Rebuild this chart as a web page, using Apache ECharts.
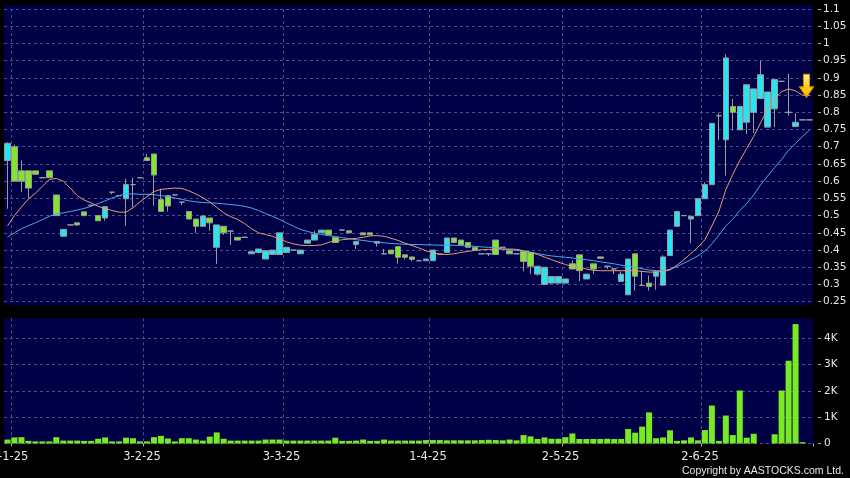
<!DOCTYPE html>
<html><head><meta charset="utf-8">
<script src="https://cdn.jsdelivr.net/npm/echarts@6/dist/echarts.min.js"></script>
<style>html,body{margin:0;padding:0;background:#000;}#c{width:850px;height:478px;}</style>
</head><body><div id="c"></div>
<script>
const dates = [
'2-1-25','3-1-25','6-1-25','7-1-25','8-1-25','9-1-25','10-1-25','13-1-25','14-1-25','15-1-25','16-1-25','17-1-25','20-1-25','21-1-25','22-1-25','23-1-25','24-1-25','27-1-25','28-1-25',
'3-2-25','4-2-25','5-2-25','6-2-25','7-2-25','10-2-25','11-2-25','12-2-25','13-2-25','14-2-25','17-2-25','18-2-25','19-2-25','20-2-25','21-2-25','24-2-25','25-2-25','26-2-25','27-2-25','28-2-25',
'3-3-25','4-3-25','5-3-25','6-3-25','7-3-25','10-3-25','11-3-25','12-3-25','13-3-25','14-3-25','17-3-25','18-3-25','19-3-25','20-3-25','21-3-25','24-3-25','25-3-25','26-3-25','27-3-25','28-3-25','31-3-25',
'1-4-25','2-4-25','3-4-25','7-4-25','8-4-25','9-4-25','10-4-25','11-4-25','14-4-25','15-4-25','16-4-25','17-4-25','22-4-25','23-4-25','24-4-25','25-4-25','28-4-25','29-4-25','30-4-25',
'2-5-25','6-5-25','7-5-25','8-5-25','9-5-25','12-5-25','13-5-25','14-5-25','15-5-25','16-5-25','19-5-25','20-5-25','21-5-25','22-5-25','23-5-25','26-5-25','27-5-25','28-5-25','29-5-25','30-5-25',
'2-6-25','3-6-25','4-6-25','5-6-25','6-6-25','9-6-25','10-6-25','11-6-25','12-6-25','13-6-25','16-6-25','17-6-25','18-6-25','19-6-25','20-6-25','23-6-25','24-6-25'
];
const openP = [
0.66,0.70,0.63,0.63,0.63,0.61,0.63,0.56,0.44,0.473,
0.479,0.511,0.53,0.50,0.493,0.568,0.558,0.549,0.59,0.61,
0.668,0.679,0.547,0.558,0.56,0.539,0.512,0.49,0.469,0.493,
0.408,0.469,0.455,0.437,0.437,0.389,0.393,0.374,0.387,0.387,
0.393,0.40,0.389,0.42,0.429,0.45,0.458,0.437,0.458,0.456,
0.416,0.45,0.45,0.42,0.389,0.40,0.41,0.386,0.38,0.369,
0.369,0.369,0.388,0.393,0.435,0.429,0.422,0.408,0.389,0.389,
0.429,0.408,0.398,0.389,0.396,0.393,0.33,0.30,0.304,0.304,
0.304,0.36,0.386,0.316,0.36,0.38,0.353,0.345,0.309,0.27,
0.389,0.297,0.304,0.324,0.298,0.384,0.469,0.50,0.49,0.50,
0.549,0.59,0.79,0.72,0.817,0.749,0.771,0.80,0.84,0.757,
0.81,0.89,0.80,0.759,0.778,0.778];
const closeP = [
0.71,0.60,0.60,0.58,0.62,0.61,0.61,0.50,0.46,0.473,
0.473,0.50,0.53,0.485,0.526,0.568,0.558,0.59,0.59,0.61,
0.66,0.618,0.512,0.528,0.56,0.539,0.49,0.469,0.499,0.479,
0.473,0.45,0.455,0.429,0.437,0.395,0.403,0.398,0.40,0.45,
0.408,0.40,0.40,0.429,0.445,0.458,0.444,0.422,0.458,0.45,
0.425,0.444,0.444,0.425,0.389,0.389,0.379,0.379,0.373,0.369,
0.374,0.40,0.388,0.435,0.422,0.415,0.408,0.40,0.389,0.389,
0.387,0.408,0.389,0.389,0.367,0.353,0.353,0.35,0.323,0.323,
0.316,0.345,0.34,0.33,0.345,0.376,0.353,0.345,0.33,0.374,
0.324,0.297,0.294,0.337,0.38,0.458,0.512,0.50,0.498,0.549,
0.59,0.768,0.79,0.958,0.80,0.817,0.88,0.868,0.909,0.859,
0.895,0.89,0.80,0.771,0.778,0.778];
const lowP = [
0.52,0.60,0.568,0.55,0.62,0.61,0.61,0.50,0.44,0.473,
0.47,0.50,0.53,0.485,0.485,0.562,0.558,0.471,0.525,0.61,
0.66,0.529,0.512,0.512,0.56,0.53,0.49,0.45,0.469,0.456,
0.36,0.444,0.415,0.429,0.437,0.389,0.39,0.374,0.387,0.387,
0.393,0.40,0.389,0.42,0.429,0.45,0.444,0.422,0.458,0.45,
0.403,0.444,0.444,0.41,0.389,0.389,0.36,0.373,0.367,0.369,
0.369,0.369,0.388,0.393,0.422,0.415,0.408,0.40,0.389,0.383,
0.387,0.408,0.389,0.389,0.338,0.33,0.325,0.30,0.304,0.304,
0.304,0.345,0.31,0.316,0.33,0.376,0.345,0.33,0.309,0.27,
0.282,0.297,0.282,0.285,0.298,0.384,0.469,0.50,0.42,0.50,
0.549,0.59,0.72,0.616,0.747,0.749,0.737,0.74,0.84,0.757,
0.757,0.89,0.79,0.759,0.778,0.778];
const highP = [
0.713,0.706,0.66,0.63,0.63,0.61,0.63,0.56,0.46,0.473,
0.479,0.511,0.53,0.50,0.526,0.568,0.558,0.607,0.61,0.61,
0.679,0.679,0.578,0.56,0.56,0.539,0.512,0.49,0.499,0.493,
0.473,0.469,0.455,0.437,0.437,0.395,0.403,0.398,0.40,0.45,
0.408,0.40,0.40,0.429,0.456,0.458,0.458,0.437,0.458,0.456,
0.425,0.45,0.45,0.425,0.403,0.40,0.41,0.386,0.38,0.369,
0.374,0.40,0.388,0.435,0.435,0.429,0.422,0.408,0.389,0.389,
0.429,0.408,0.398,0.389,0.396,0.393,0.353,0.35,0.323,0.323,
0.316,0.37,0.386,0.33,0.36,0.38,0.353,0.345,0.337,0.374,
0.389,0.34,0.326,0.34,0.385,0.458,0.512,0.50,0.498,0.549,
0.597,0.768,0.797,0.968,0.839,0.817,0.88,0.868,0.95,0.859,
0.895,0.89,0.912,0.797,0.778,0.778];
const volumeK = [
0.15,0.23,0.24,0.10,0.08,0.08,0.08,0.24,0.11,0.11,
0.11,0.10,0.10,0.18,0.23,0.08,0.08,0.22,0.20,0.08,
0.08,0.24,0.29,0.19,0.08,0.20,0.20,0.15,0.11,0.26,
0.42,0.18,0.11,0.11,0.11,0.11,0.11,0.15,0.15,0.15,
0.11,0.11,0.11,0.11,0.11,0.11,0.11,0.22,0.10,0.10,
0.11,0.15,0.10,0.10,0.15,0.11,0.11,0.11,0.11,0.11,
0.13,0.13,0.13,0.12,0.12,0.12,0.12,0.12,0.13,0.14,
0.13,0.12,0.15,0.12,0.32,0.27,0.17,0.23,0.18,0.18,
0.24,0.38,0.17,0.17,0.17,0.17,0.18,0.17,0.17,0.55,
0.41,0.64,1.18,0.20,0.23,0.50,0.10,0.12,0.23,0.12,
0.51,1.44,0.10,1.06,0.32,2.01,0.22,0.37,0,0,
0.35,2.01,3.14,4.53,0.05,0];
const ma10 = [
0.47,0.50,0.525,0.548,0.565,0.585,0.605,0.608,0.60,0.58,
0.558,0.545,0.537,0.527,0.52,0.515,0.51,0.51,0.523,0.54,
0.555,0.57,0.576,0.578,0.58,0.579,0.572,0.563,0.552,0.54,
0.524,0.508,0.497,0.489,0.477,0.462,0.45,0.445,0.44,0.432,
0.424,0.418,0.414,0.413,0.413,0.415,0.422,0.427,0.43,0.432,
0.434,0.437,0.441,0.442,0.44,0.434,0.428,0.42,0.413,0.406,
0.398,0.392,0.388,0.387,0.389,0.393,0.396,0.399,0.401,0.402,
0.402,0.403,0.403,0.402,0.398,0.393,0.387,0.38,0.372,0.365,
0.358,0.352,0.35,0.345,0.341,0.34,0.34,0.34,0.34,0.34,
0.34,0.338,0.336,0.336,0.338,0.342,0.356,0.372,0.39,0.408,
0.43,0.47,0.512,0.575,0.62,0.66,0.695,0.73,0.77,0.81,
0.84,0.86,0.868,0.862,0.85,0.849];
const ma20 = [
0.438,0.45,0.462,0.471,0.479,0.488,0.498,0.505,0.508,0.512,
0.516,0.521,0.527,0.535,0.543,0.551,0.558,0.563,0.563,0.562,
0.562,0.561,0.558,0.555,0.551,0.547,0.543,0.54,0.538,0.537,
0.536,0.534,0.532,0.53,0.527,0.522,0.515,0.506,0.498,0.489,
0.479,0.469,0.46,0.454,0.449,0.445,0.442,0.439,0.436,0.433,
0.43,0.428,0.425,0.423,0.421,0.419,0.418,0.417,0.416,0.416,
0.415,0.415,0.414,0.414,0.414,0.413,0.412,0.411,0.409,0.408,
0.406,0.403,0.401,0.399,0.397,0.394,0.39,0.386,0.383,0.381,
0.379,0.377,0.374,0.372,0.369,0.366,0.363,0.36,0.356,0.353,
0.35,0.346,0.342,0.34,0.34,0.344,0.352,0.362,0.372,0.383,
0.397,0.418,0.443,0.47,0.49,0.515,0.535,0.56,0.59,0.615,
0.64,0.663,0.69,0.71,0.73,0.748];
const priceAxis = { min: 0.25, max: 1.1, step: 0.05 };
const volAxis = { min: 0, max: 4.75, step: 1 };
const signal = [[115, 0.877]];

const candles = openP.map((o, i) => [o, closeP[i], lowP[i], highP[i]]);
const monthOf = d => d.split('-')[1];
const isMonthStart = i => i >= 0 && i < dates.length && (i === 0 || monthOf(dates[i]) !== monthOf(dates[i - 1]));
const afterMonthStart = i => isMonthStart(i - 1);

const gridColor = '#4e4e84';
const txt = '#e6e6e6';
const FONT = 'DejaVu Sans';

const chart = echarts.init(document.getElementById('c'), null, { renderer: 'canvas' });
chart.setOption({
  animation: false,
  backgroundColor: '#000',
  textStyle: { fontFamily: FONT },
  grid: [
    { left: 4, width: 809, top: 9, height: 292.7, show: false, outerBoundsMode: 'none' },
    { left: 4, width: 809, top: 318.3, height: 125.2, show: true, backgroundColor: '#000046', borderWidth: 0, outerBoundsMode: 'none' },
    { left: 4, width: 809, top: 5, height: 300, show: true, backgroundColor: '#000046', borderWidth: 0, outerBoundsMode: 'none' }
  ],
  xAxis: [
    { type: 'category', gridIndex: 0, data: dates, boundaryGap: true,
      axisLine: { show: false }, axisTick: { show: false }, axisLabel: { show: false },
      splitLine: { show: true, interval: (i) => afterMonthStart(i), showMaxLine: false,
        lineStyle: { color: gridColor, type: [3, 3], width: 1 } } },
    { type: 'category', gridIndex: 1, data: dates, boundaryGap: true, offset: 3,
      axisLine: { show: false },
      axisTick: { show: true, length: 3, interval: (i) => afterMonthStart(i), lineStyle: { color: '#aaaaaa' } },
      axisLabel: { show: true, interval: (i) => isMonthStart(i), color: txt, fontSize: 11.5, fontFamily: FONT, margin: 5, padding: [0, 0, 0, 4] },
      splitLine: { show: true, interval: (i) => afterMonthStart(i), showMaxLine: false,
        lineStyle: { color: gridColor, type: [3, 3], width: 1 } } },
    { type: 'category', gridIndex: 2, data: dates, show: false }
  ],
  yAxis: [
    { type: 'value', gridIndex: 0, position: 'right', min: priceAxis.min, max: priceAxis.max, interval: priceAxis.step, offset: 5,
      axisLine: { show: false },
      axisTick: { show: true, length: 3, lineStyle: { color: '#aaaaaa' } },
      axisLabel: { color: txt, fontSize: 10.5, fontFamily: FONT, margin: 5 },
      splitLine: { show: true, lineStyle: { color: gridColor, type: [3, 3], width: 1 } } },
    { type: 'value', gridIndex: 1, position: 'right', min: volAxis.min, max: volAxis.max, interval: volAxis.step, offset: 5,
      axisLine: { show: false },
      axisTick: { show: true, length: 3, lineStyle: { color: '#aaaaaa' } },
      axisLabel: { color: txt, fontSize: 10.5, fontFamily: FONT, margin: 6, showMaxLabel: false,
        formatter: v => v === 0 ? '0' : (v + 'K') },
      splitLine: { show: true, showMaxLine: false, lineStyle: { color: gridColor, type: [3, 3], width: 1 } } },
    { type: 'value', gridIndex: 2, show: false }
  ],
  series: [
    { type: 'candlestick', xAxisIndex: 0, yAxisIndex: 0, data: candles, barWidth: 6,
      itemStyle: { color: '#27e4f2', color0: '#7fe82a', borderColor: '#9a9a9a', borderColor0: '#9a9a9a', borderColorDoji: '#a0a0a0', borderWidth: 1 } },
    { type: 'line', xAxisIndex: 0, yAxisIndex: 0, data: ma20, showSymbol: false, symbol: 'none',
      lineStyle: { color: '#4aa8ee', width: 1 } },
    { type: 'line', xAxisIndex: 0, yAxisIndex: 0, data: ma10, showSymbol: false, symbol: 'none',
      lineStyle: { color: '#e89c72', width: 1 } },
    { type: 'scatter', xAxisIndex: 0, yAxisIndex: 0, data: signal, z: 10,
      symbol: 'path://M4,0 L10,0 L10,12 L14,12 L7,22 L0,12 L4,12 Z', symbolSize: [14, 23], symbolOffset: [-3, 0],
      itemStyle: { opacity: 1, color: new echarts.graphic.LinearGradient(0, 0, 0, 1, [{ offset: 0, color: '#fff48a' }, { offset: 0.5, color: '#ffd21a' }, { offset: 1, color: '#ffb300' }]), borderColor: '#e08a00', borderWidth: 1 } },
    { type: 'bar', xAxisIndex: 1, yAxisIndex: 1, data: volumeK, barWidth: 6,
      itemStyle: { color: '#78ea22' } }
  ],
  graphic: [
    { type: 'text', right: 6, bottom: 1, silent: true,
      style: { text: 'Copyright by AASTOCKS.com Ltd.', fill: txt, font: '10.5px "Liberation Sans"' } }
  ]
});
</script>
</body></html>
